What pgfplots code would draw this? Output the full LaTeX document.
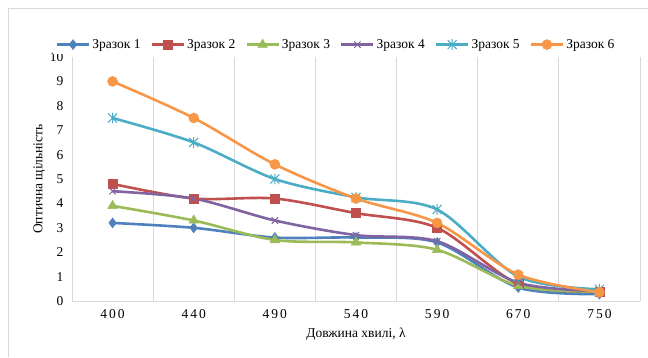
\documentclass[border=0pt]{standalone}
\usepackage{fontspec}
\setmainfont{Liberation Serif}
\newfontfamily\spacedfont[LetterSpace=15]{Liberation Serif}
\usepackage{pgfplots}
\pgfplotsset{compat=1.18}
\usepackage{pgfplotstable}

\definecolor{cA}{HTML}{4F81BD}
\definecolor{cB}{HTML}{C0504D}
\definecolor{cC}{HTML}{9BBB59}
\definecolor{cD}{HTML}{8064A2}
\definecolor{cE}{HTML}{4BACC6}
\definecolor{cF}{HTML}{F79646}
\definecolor{frame}{HTML}{D9D9D9}

% Excel-style star marker: an x with a vertical stroke
\pgfdeclareplotmark{xstar}{%
  \pgfpathmoveto{\pgfqpoint{-\pgfplotmarksize}{-\pgfplotmarksize}}%
  \pgfpathlineto{\pgfqpoint{\pgfplotmarksize}{\pgfplotmarksize}}%
  \pgfpathmoveto{\pgfqpoint{-\pgfplotmarksize}{\pgfplotmarksize}}%
  \pgfpathlineto{\pgfqpoint{\pgfplotmarksize}{-\pgfplotmarksize}}%
  \pgfpathmoveto{\pgfqpoint{0pt}{-1.2\pgfplotmarksize}}%
  \pgfpathlineto{\pgfqpoint{0pt}{1.2\pgfplotmarksize}}%
  \pgfusepathqstroke}

% optical density vs wavelength index
\pgfplotstableread{
x  s1   s2   s3   s4   s5    s6
0  3.2  4.8  3.9  4.5  7.5   9.0
1  3.0  4.2  3.3  4.2  6.5   7.5
2  2.6  4.2  2.5  3.3  5.0   5.6
3  2.6  3.6  2.4  2.7  4.25  4.2
4  2.4  3.0  2.1  2.45 3.75  3.2
5  0.55 0.7  0.62 0.75 1.0   1.08
6  0.28 0.38 0.38 0.4  0.48  0.36
}\datatable

\newcommand\chartfont{\fontsize{13.5}{16}\selectfont}

\begin{document}
\begin{tikzpicture}[x=1pt,y=1pt]
\begin{axis}[
  scale only axis, width=568pt, height=244pt,
  xmin=-0.5, xmax=6.5, ymin=0, ymax=10,
  axis x line*=bottom, axis y line*=left,
  axis line style={frame, line width=0.8pt},
  xtick={0,...,6},
  xticklabels={400,440,490,540,590,670,750},
  xticklabel style={font=\spacedfont\chartfont, yshift=-5pt},
  minor xtick={0.5,1.5,...,6.5},
  xminorgrids=true,
  minor grid style={frame, line width=0.8pt},
  ytick={0,...,10},
  yticklabel style={font=\chartfont, xshift=-5pt},
  major tick length=0pt, minor tick length=0pt,
  /pgf/number format/assume math mode=true,
  xlabel={Довжина хвилі, λ},
  ylabel={Оптична щільність},
  label style={font=\chartfont},
  xlabel style={yshift=-2pt},
  ylabel style={yshift=-2pt},
  legend columns=6,
  legend style={at={(0.465,1.0)}, anchor=south, yshift=3pt, draw=none,
    font=\chartfont,
    /tikz/every even column/.append style={column sep=8pt}},
  legend image code/.code={%
    \draw[mark repeat=2, mark phase=2] plot coordinates {(0pt,0pt) (16pt,0pt) (32pt,0pt)};},
  every axis plot/.append style={line width=2.6pt, smooth},
  clip=false,
]
\addplot[cA, mark=diamond*, mark size=5pt, mark options={solid, fill=cA, line width=0.5pt}] table[x=x, y=s1] {\datatable};
\addlegendentry{Зразок 1}
\addplot[cB, mark=square*, mark size=4.5pt, mark options={solid, fill=cB, line width=0.5pt}] table[x=x, y=s2] {\datatable};
\addlegendentry{Зразок 2}
\addplot[cC, mark=triangle*, mark size=5.5pt, mark options={solid, fill=cC, line width=0.5pt}] table[x=x, y=s3] {\datatable};
\addlegendentry{Зразок 3}
\addplot[cD, mark=x, mark size=4.5pt, mark options={solid, line width=1pt}] table[x=x, y=s4] {\datatable};
\addlegendentry{Зразок 4}
\addplot[cE, mark=xstar, mark size=4.5pt, mark options={solid, line width=1pt}] table[x=x, y=s5] {\datatable};
\addlegendentry{Зразок 5}
\addplot[cF, mark=*, mark size=5pt, mark options={solid, fill=cF, line width=0.5pt}] table[x=x, y=s6] {\datatable};
\addlegendentry{Зразок 6}
\end{axis}
% fixed page area and the light chart frame, measured from the axis origin
\pgfresetboundingbox
\useasboundingbox (-72,-56) rectangle (576,301);
\draw[frame, line width=0.8pt] (-63.5,-56) -- (-63.5,292.5) -- (576,292.5);
\end{tikzpicture}
\end{document}
